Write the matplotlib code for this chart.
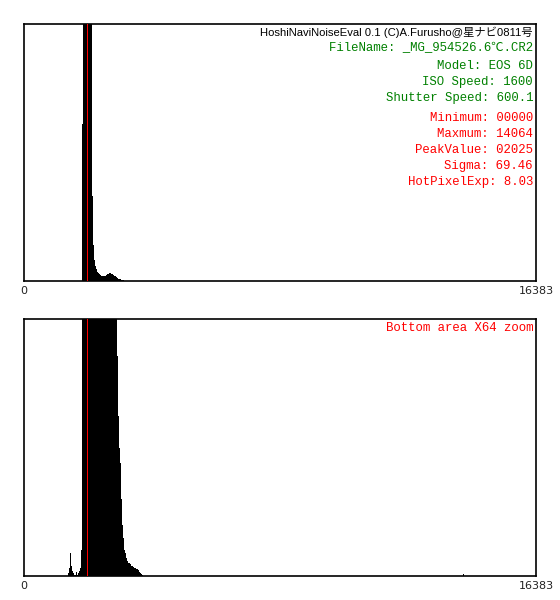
import numpy as np
import matplotlib
matplotlib.use("Agg")
import matplotlib.pyplot as plt

# ---------------- data ----------------
BIN_WIDTH = 32          # ADU per histogram bin (one screen column)
ADU_MAX = 16383
PEAK_VALUE = 2025
ZOOM = 64
Y_FULL = 100000.0       # full-scale count of the upper panel (arbitrary units)

# first bin index of the populated region (bin k covers [32k, 32k+32))
first_bin = 44
# counts per bin (relative units, full scale of upper panel = 100000)
counts = [
    16, 47, 141, 63, 31, 16, 6, 6, 23, 6, 16, 31, 47, 156,        # bins 44-57
    61000, 130000, 220000, 350000, 420000, 400000, 300000, 200000, 140000, 110000,  # 58-67
    33000, 14000, 8000, 6000, 4500, 3600, 3000, 2600, 2300, 2100,  # 68-77
    2000, 1900, 1900, 2100, 2400, 2700, 2900, 3000, 3000, 2900,    # 78-87
    2700, 2400, 2100, 1900, 1700,                                  # 88-92
    1336, 970, 780, 690, 470, 310, 230, 160, 140, 110,             # 93-102
    94, 78, 78, 70, 62, 59, 55, 50, 47, 44, 41, 36, 23, 16, 12, 8,  # 103-118
]
# isolated hot pixel bin near the maximum value
hot_bins = [439]
hot_counts = [12]

# ---------------- text ----------------
title_line = "HoshiNaviNoiseEval 0.1 (C)A.Furusho@星ナビ0811号"
info_green = ["FileName: _MG_954526.6℃.CR2", "Model: EOS 6D",
              "ISO Speed: 1600", "Shutter Speed: 600.1"]
info_red = ["Minimum: 00000", "Maxmum: 14064", "PeakValue: 02025",
            "Sigma: 69.46", "HotPixelExp: 8.03"]
zoom_label = "Bottom area X64 zoom"
tick_labels = ["0", "16383"]

# ---------------- figure ----------------
W, H = 560, 600
fig = plt.figure(figsize=(W / 100, H / 100), dpi=100)
fig.patch.set_facecolor("white")

def fx(px):
    return px / W

def fy(py):
    return 1 - py / H

L, R = 24, 536
top_ax = fig.add_axes([fx(L), fy(281), fx(R - L), (281 - 24) / H])
bot_ax = fig.add_axes([fx(L), fy(576), fx(R - L), (576 - 319) / H])

bins = np.arange(first_bin, first_bin + len(counts))
xs = np.concatenate([bins, hot_bins]) * BIN_WIDTH
ys = np.concatenate([counts, hot_counts]).astype(float)
peak_bin_start = (PEAK_VALUE // BIN_WIDTH) * BIN_WIDTH

for ax, ymax in [(top_ax, Y_FULL), (bot_ax, Y_FULL / ZOOM)]:
    ax.bar(xs, ys, width=BIN_WIDTH, align="edge", color="black",
           linewidth=0, antialiased=False)
    ax.axvspan(peak_bin_start, peak_bin_start + BIN_WIDTH,
               color="#ff0000", linewidth=0, zorder=5)
    ax.set_xlim(0, BIN_WIDTH * 512)
    ax.set_ylim(0, ymax)
    ax.set_xticks([])
    ax.set_yticks([])
    for s in ax.spines.values():
        s.set_linewidth(1.2)
        s.set_color("black")

mono = ["Liberation Mono", "DejaVu Sans Mono", "Noto Sans CJK JP"]
RX = 533
fig.text(fx(RX), fy(32), title_line, ha="right", va="center",
         fontsize=8.1, color="black",
         family=["Liberation Sans Narrow", "Liberation Sans", "Noto Sans CJK JP"])
green_y = [48, 66, 82, 98]
red_y = [118, 134, 150, 166, 182]
for t, y in zip(info_green, green_y):
    fig.text(fx(RX), fy(y), t, ha="right", va="center", fontsize=8.9,
             color="#008000", family=mono)
for t, y in zip(info_red, red_y):
    fig.text(fx(RX), fy(y), t, ha="right", va="center", fontsize=8.9,
             color="#ff0000", family=mono)
fig.text(fx(RX), fy(328), zoom_label, ha="right", va="center",
         fontsize=8.9, color="#ff0000", family=mono)

sans = ["DejaVu Sans"]
for ly in (291, 586):
    fig.text(fx(L), fy(ly), tick_labels[0], ha="center", va="center",
             fontsize=8, color="#222222", family=sans)
    fig.text(fx(R), fy(ly), tick_labels[1], ha="center", va="center",
             fontsize=8, color="#222222", family=sans)

fig.savefig("out.png", dpi=100, facecolor="white")
